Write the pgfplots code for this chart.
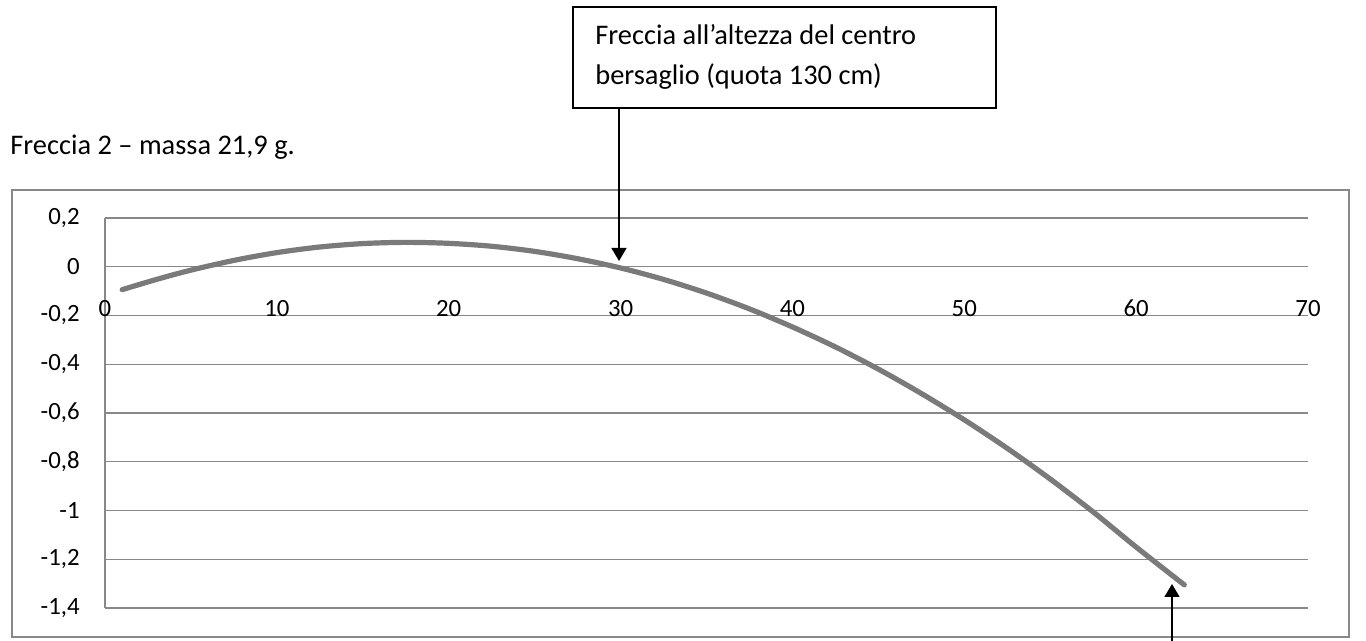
\documentclass[border=0pt]{standalone}
\usepackage{fontspec}
\setmainfont{Carlito}
\usepackage{pgfplots}
\pgfplotsset{compat=1.18}
\usetikzlibrary{arrows.meta}
\definecolor{gridgray}{RGB}{136,136,136}
\definecolor{curvegray}{RGB}{122,122,122}

\begin{document}
\begin{tikzpicture}
\useasboundingbox (0,0) rectangle (683pt,320.5pt);

\begin{axis}[
    at={(52.5pt,16.5pt)}, anchor=south west,
    scale only axis,
    width=601.5pt, height=195pt,
    xmin=0, xmax=70, ymin=-1.4, ymax=0.2,
    axis x line=middle, axis y line=left,
    axis line style={-, draw=gridgray, line width=0.65pt},
    ymajorgrids,
    major grid style={draw=gridgray, line width=0.65pt},
    major tick length=0pt,
    hide obscured x ticks=false, hide obscured y ticks=false,
    xtick={0,10,20,30,40,50,60,70},
    xticklabels={0,10,20,30,40,50,60,70},
    ytick={-1.4,-1.2,-1,-0.8,-0.6,-0.4,-0.2,0,0.2},
    yticklabels={{-1,4},{-1,2},{-1},{-0,8},{-0,6},{-0,4},{-0,2},{0},{0,2}},
    xticklabel style={font=\fontsize{12.4}{14}\selectfont, anchor=base, inner sep=0pt, yshift=-25pt},
    yticklabel style={font=\fontsize{12.4}{14}\selectfont, anchor=east, inner sep=0pt, xshift=-12.5pt},
    clip=false,
]
\addplot[curvegray, line width=2.6pt, line cap=round, smooth] coordinates {
    (1,-0.094) (3,-0.052) (5,-0.014) (7.5,0.026) (10,0.058) (12.5,0.081)
    (15,0.095) (17.5,0.100) (20,0.096) (22.5,0.084) (25,0.063) (27.5,0.033)
    (30,-0.005) (32.5,-0.052) (35,-0.108) (37.5,-0.173) (40,-0.247)
    (42.5,-0.329) (45,-0.420) (47.5,-0.520) (50,-0.628) (52.5,-0.745)
    (55,-0.871) (57.5,-1.006) (60,-1.150) (62.8,-1.305)
};
\end{axis}

% everything else in pixel coordinates measured from the top-left corner
\begin{scope}[shift={(0pt,320.5pt)}, x=0.5pt, y=-0.5pt]
% chart frame
\draw[gridgray, line width=0.75pt] (12,190) rectangle (1349,637);

% title
\node[anchor=base west, inner sep=0pt, font=\fontsize{14.2}{17}\selectfont] at (10,155) {Freccia 2 – massa 21,9 g.};

% annotation box
\draw[black, line width=0.6pt, fill=white] (573,7) rectangle (996,108);
\node[anchor=base west, inner sep=0pt, font=\fontsize{14.2}{17}\selectfont] at (595,45) {Freccia all’altezza del centro};
\node[anchor=base west, inner sep=0pt, font=\fontsize{14.2}{17}\selectfont] at (595,85) {bersaglio (quota 130 cm)};

% arrows
\draw[black, line width=0.65pt, -{Triangle[width=7.5pt,length=6.5pt]}] (619,108) -- (619,261);
\draw[black, line width=0.65pt, -{Triangle[width=7.5pt,length=6.5pt]}] (1172,641) -- (1172,584);
\end{scope}
\end{tikzpicture}
\end{document}
